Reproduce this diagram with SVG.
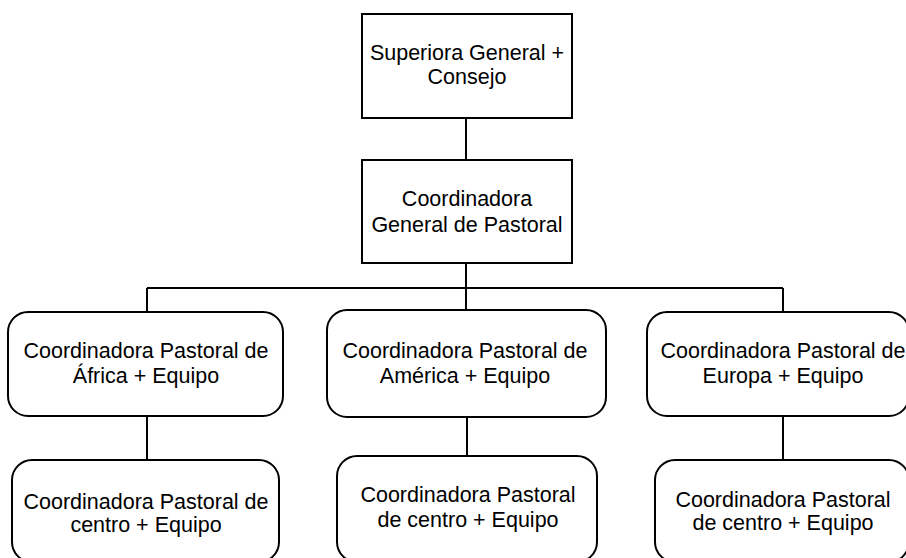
<svg xmlns="http://www.w3.org/2000/svg" width="906" height="558" viewBox="0 0 906 558">
<style>
.box{fill:#fff;stroke:#000;stroke-width:2}
.con{fill:none;stroke:#000;stroke-width:2}
text{font-family:"Liberation Sans",Arial,sans-serif;font-size:21.5px;fill:#000;text-anchor:middle}
</style>
<rect width="906" height="558" fill="#fff"/>
<g id="connectors">
<line class="con" x1="466" y1="118" x2="466" y2="160"/>
<line class="con" x1="466" y1="263" x2="466" y2="310"/>
<line class="con" x1="147" y1="288" x2="783" y2="288"/>
<line class="con" x1="147" y1="288" x2="147" y2="312"/>
<line class="con" x1="783" y1="288" x2="783" y2="312"/>
<line class="con" x1="147" y1="416" x2="147" y2="460"/>
<line class="con" x1="467" y1="417" x2="467" y2="456"/>
<line class="con" x1="783" y1="416" x2="783" y2="460"/>
</g>
<g id="superiora">
<rect class="box" x="362" y="14" width="210" height="104"/>
<text x="467" y="60">Superiora General +</text>
<text x="467" y="84">Consejo</text>
</g>
<g id="coord-general">
<rect class="box" x="362" y="160" width="210" height="103"/>
<text x="467" y="206">Coordinadora</text>
<text x="467" y="232">General de Pastoral</text>
</g>
<g id="africa">
<rect class="box" x="8" y="312" width="275" height="104" rx="20"/>
<text x="146" y="358">Coordinadora Pastoral de</text>
<text x="146" y="383">África + Equipo</text>
</g>
<g id="america">
<rect class="box" x="327" y="310" width="279" height="107" rx="20"/>
<text x="465" y="358">Coordinadora Pastoral de</text>
<text x="465" y="383">América + Equipo</text>
</g>
<g id="europa">
<rect class="box" x="647" y="312" width="262" height="104" rx="20"/>
<text x="783" y="358">Coordinadora Pastoral de</text>
<text x="783" y="383">Europa + Equipo</text>
</g>
<g id="centro-africa">
<rect class="box" x="12" y="460" width="267" height="102" rx="20"/>
<text x="146" y="509">Coordinadora Pastoral de</text>
<text x="146" y="532">centro + Equipo</text>
</g>
<g id="centro-america">
<rect class="box" x="337" y="456" width="260" height="106" rx="20"/>
<text x="468" y="502">Coordinadora Pastoral</text>
<text x="468" y="527">de centro + Equipo</text>
</g>
<g id="centro-europa">
<rect class="box" x="655" y="460" width="254" height="102" rx="20"/>
<text x="783" y="507">Coordinadora Pastoral</text>
<text x="783" y="530">de centro + Equipo</text>
</g>
</svg>
